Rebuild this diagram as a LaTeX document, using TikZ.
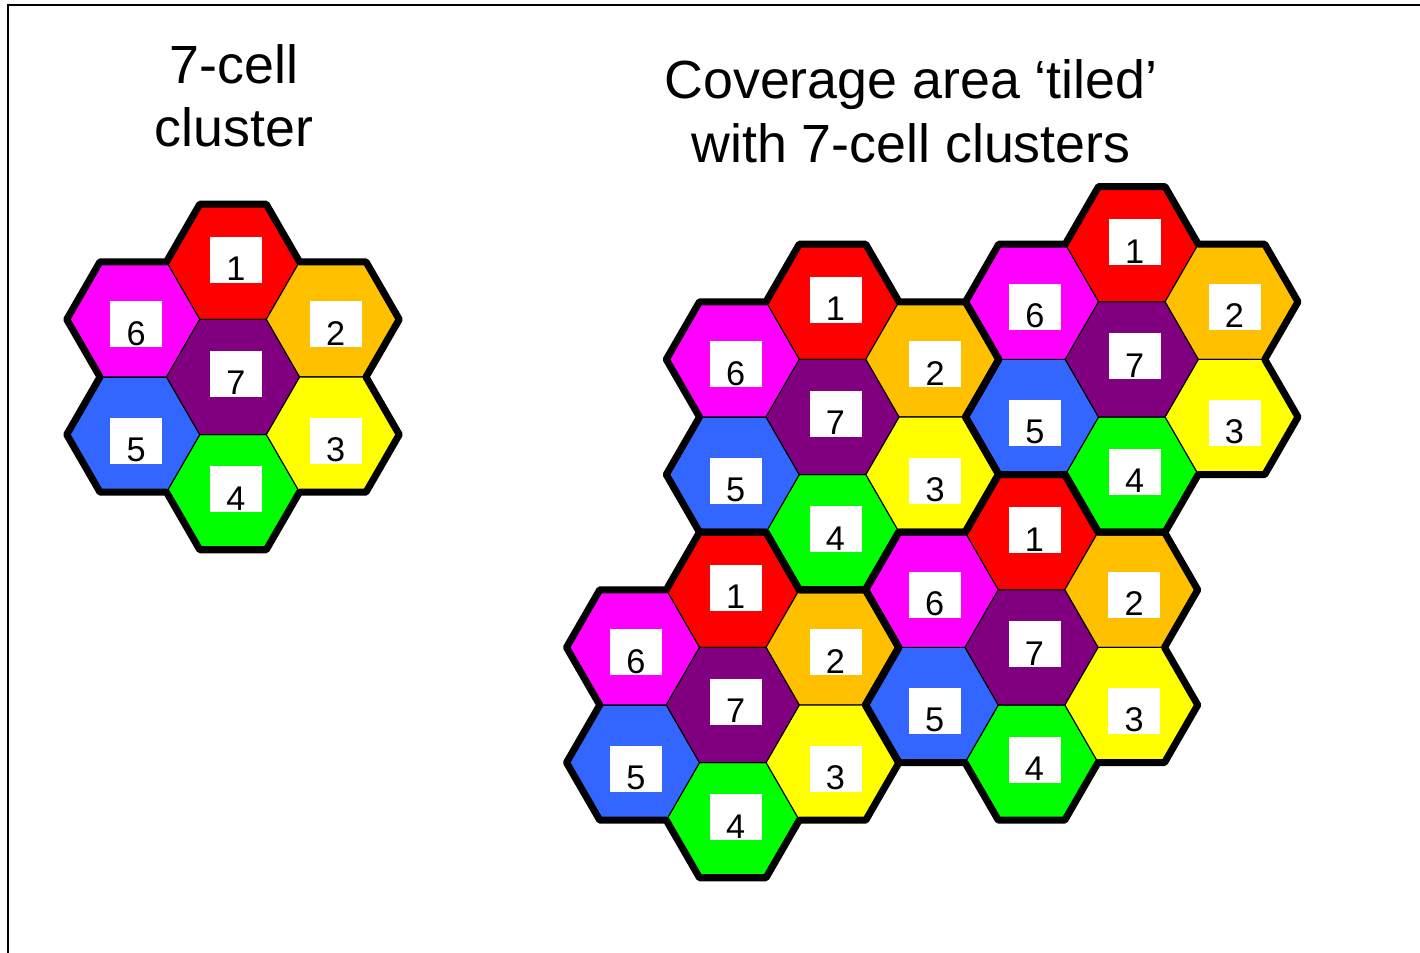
\documentclass[tikz,border=0pt]{standalone}
\usepackage{fontspec}
\setmainfont{Liberation Sans}
\usetikzlibrary{shapes.geometric}
\definecolor{cellred}{HTML}{FF0000}
\definecolor{cellorange}{HTML}{FFC000}
\definecolor{cellyellow}{HTML}{FFFF00}
\definecolor{cellgreen}{HTML}{00FF00}
\definecolor{cellblue}{HTML}{3366FF}
\definecolor{cellpurple}{HTML}{800080}
\definecolor{cellmagenta}{HTML}{FF00FF}
\tikzstyle{hexcell} = [draw, line width=0.6pt, shape=regular polygon, regular polygon sides=6, minimum size=2.66cm, inner sep=0pt, outer sep=0pt]
\tikzstyle{numbox} = [fill=white, inner sep=0pt, minimum width=1.04cm, text height=25pt, text depth=1.2pt, font=\fontsize{19.5}{19.5}\selectfont]
\tikzstyle{outline} = [line width=4pt, line join=round]
\tikzstyle{title} = [align=center, font=\fontsize{30.6}{36}\selectfont]
\tikzstyle{frame} = [line width=1.1pt]
\newcommand{\hexR}{66.5}

\begin{document}
\begin{tikzpicture}[x=0.02cm, y=-0.02cm]
        \useasboundingbox (0,0) rectangle (1420,953);
        \draw[frame] (8,953) -- (8,5) -- (1420,5);
        \node[title, anchor=base] (lefttitle) at (234,147) {7-cell\\cluster};
        \node[title, anchor=base] (righttitle) at (911,162) {Coverage area ‘tiled’\\with 7-cell clusters};
        % cells of each cluster
        \foreach \cl/\cx/\cy in {L/233/377, A/832.5/417, B/1131.75/359.4, C/732.75/705, D/1031.5/647.4} {
          \foreach \n/\dx/\dy/\col in {1/0/-115.2/cellred, 2/99.75/-57.6/cellorange, 3/99.75/57.6/cellyellow,
                                       4/0/115.2/cellgreen, 5/-99.75/57.6/cellblue, 6/-99.75/-57.6/cellmagenta, 7/0/0/cellpurple}
            \node[hexcell, fill=\col] (\cl-\n) at (\cx+\dx,\cy+\dy) {};
        }
        % cluster borders
        \foreach \cl in {L,A,B,C,D}
          \draw[outline] ([shift={(\hexR,-115.2)}]\cl-7.center)
            \foreach \k in {0,...,5} { -- ++({-120-60*\k}:\hexR) -- ++({-180-60*\k}:\hexR) -- ++({-240-60*\k}:\hexR) } -- cycle;
        % number boxes
        \foreach \cl in {L,A,B,C,D}
          \foreach \n/\by in {1/-2, 2/5, 3/6, 4/-3, 5/6, 6/5, 7/-3}
            \node[numbox] (\cl-\n-box) at ([shift={(3,\by)}]\cl-\n.center) {\n};
\end{tikzpicture}
\end{document}
